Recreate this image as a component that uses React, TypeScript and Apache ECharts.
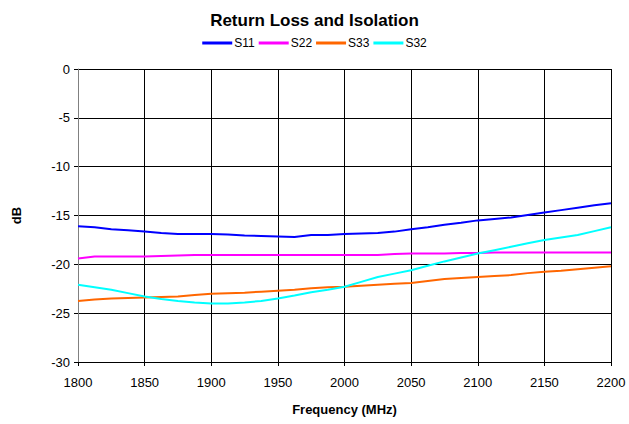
import React, { useEffect, useRef } from "react";
import * as echarts from "echarts";

const freqs = [1800, 1812.5, 1825, 1837.5, 1850, 1862.5, 1875, 1887.5, 1900, 1912.5, 1925, 1937.5, 1950, 1962.5, 1975, 1987.5, 2000, 2012.5, 2025, 2037.5, 2050, 2062.5, 2075, 2087.5, 2100, 2112.5, 2125, 2137.5, 2150, 2162.5, 2175, 2187.5, 2200];

const s11 = [-16.1, -16.2, -16.4, -16.5, -16.65, -16.8, -16.9, -16.9, -16.9, -16.95, -17.05, -17.1, -17.15, -17.2, -17.0, -17.0, -16.9, -16.85, -16.8, -16.65, -16.4, -16.2, -15.95, -15.75, -15.5, -15.35, -15.2, -14.95, -14.7, -14.45, -14.2, -13.95, -13.75];
const s22 = [-19.4, -19.2, -19.2, -19.2, -19.2, -19.15, -19.1, -19.05, -19.05, -19.05, -19.05, -19.05, -19.05, -19.05, -19.05, -19.05, -19.05, -19.05, -19.05, -18.95, -18.9, -18.9, -18.9, -18.85, -18.85, -18.8, -18.8, -18.8, -18.8, -18.8, -18.8, -18.8, -18.8];
const s33 = [-23.75, -23.6, -23.5, -23.45, -23.4, -23.35, -23.3, -23.15, -23.0, -22.95, -22.9, -22.8, -22.7, -22.6, -22.45, -22.35, -22.3, -22.2, -22.1, -22.0, -21.9, -21.7, -21.5, -21.4, -21.3, -21.2, -21.1, -20.9, -20.75, -20.65, -20.5, -20.35, -20.2];
const s32 = [-22.1, -22.35, -22.6, -22.95, -23.3, -23.55, -23.75, -23.9, -24.0, -24.0, -23.9, -23.75, -23.5, -23.2, -22.85, -22.6, -22.3, -21.8, -21.3, -20.95, -20.6, -20.15, -19.7, -19.3, -18.9, -18.55, -18.2, -17.85, -17.5, -17.25, -17.0, -16.6, -16.2];

const seriesNames = ["S11", "S22", "S33", "S32"];
const seriesColors = ["#0000FF", "#FF00FF", "#FF6600", "#00FFFF"];
const seriesValues = [s11, s22, s33, s32];

export default function App() {
  const ref = useRef<HTMLDivElement>(null);
  useEffect(() => {
    if (!ref.current) return;
    const chart = echarts.init(ref.current, null, { renderer: "svg" });
    const font = "Liberation Sans, Arial, sans-serif";
    chart.setOption({
      animation: false,
      title: {
        text: "Return Loss and Isolation",
        left: "center",
        top: 7,
        textStyle: { fontFamily: font, fontSize: 17, fontWeight: "bold", color: "#000" },
      },
      legend: {
        top: 32,
        left: "center",
        data: seriesNames,
        icon: "rect",
        itemWidth: 30,
        itemHeight: 3,
        itemGap: 4,
        textStyle: { fontFamily: font, fontSize: 12, color: "#000", padding: [0, 0, 0, -3] },
      },
      grid: { left: 78, right: 18, top: 69, bottom: 62 },
      xAxis: {
        type: "value",
        min: 1800,
        max: 2200,
        interval: 50,
        name: "Frequency (MHz)",
        nameLocation: "middle",
        nameGap: 41,
        nameTextStyle: { fontFamily: font, fontSize: 13, fontWeight: "bold", color: "#000" },
        axisLine: { show: true, onZero: false, lineStyle: { color: "#000", width: 1 } },
        axisTick: { show: true, length: 4, lineStyle: { color: "#000" } },
        axisLabel: { fontFamily: font, fontSize: 13, color: "#000", margin: 14, formatter: (v: number) => String(v) },
        splitLine: { show: true, lineStyle: { color: "#000", width: 1 } },
      },
      yAxis: {
        type: "value",
        min: -30,
        max: 0,
        interval: 5,
        name: "dB",
        nameLocation: "middle",
        nameGap: 55,
        nameTextStyle: { fontFamily: font, fontSize: 13, fontWeight: "bold", color: "#000" },
        axisLine: { show: true, lineStyle: { color: "#808080", width: 1 } },
        axisTick: { show: true, length: 4, lineStyle: { color: "#000" } },
        axisLabel: { fontFamily: font, fontSize: 13, color: "#000", margin: 8, formatter: (v: number) => String(v) },
        splitLine: { show: true, lineStyle: { color: "#000", width: 1 } },
      },
      series: seriesNames.map((name, i) => ({
        name,
        type: "line",
        data: freqs.map((f, j) => [f, seriesValues[i][j]]),
        showSymbol: false,
        symbol: "none",
        lineStyle: { color: seriesColors[i], width: 2 },
        itemStyle: { color: seriesColors[i] },
      })),
    });
    return () => chart.dispose();
  }, []);
  return <div ref={ref} style={{ width: 629, height: 424, position: "absolute", left: 0, top: 0, background: "#fff" }} />;
}
